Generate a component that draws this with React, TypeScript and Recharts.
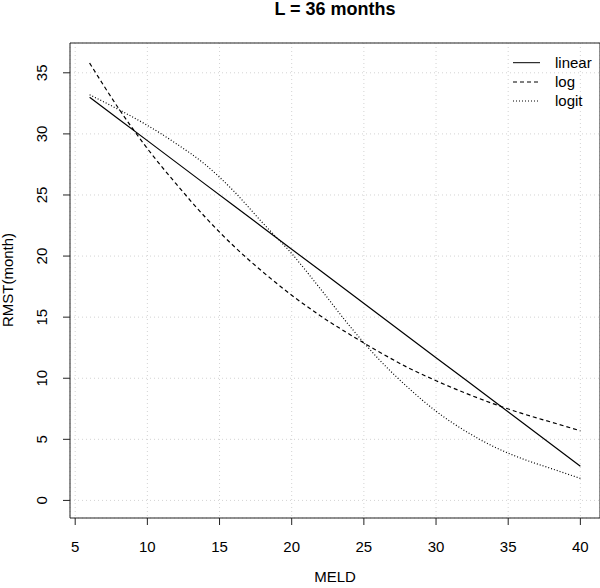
import { LineChart, Line, XAxis, YAxis, CartesianGrid, ReferenceArea, Customized } from 'recharts';

const meld = [6, 8, 10, 12, 14, 16, 18, 20, 22, 24, 26, 28, 30, 32, 34, 36, 38, 40];
const rmstLinear = [33.0, 31.22, 29.45, 27.67, 25.89, 24.12, 22.34, 20.56, 18.79, 17.01, 15.24, 13.46, 11.68, 9.91, 8.13, 6.35, 4.58, 2.8];
const rmstLog = [35.8, 32.1, 28.8, 25.9, 23.2, 20.8, 18.7, 16.8, 15.1, 13.6, 12.2, 10.9, 9.8, 8.8, 7.9, 7.1, 6.4, 5.7];
const rmstLogit = [33.2, 32.0, 30.7, 29.2, 27.5, 25.3, 22.7, 20.2, 17.3, 14.3, 11.6, 9.3, 7.3, 5.7, 4.4, 3.4, 2.6, 1.8];

const xTicks = [5, 10, 15, 20, 25, 30, 35, 40];
const yTicks = [0, 5, 10, 15, 20, 25, 30, 35];
const seriesNames = ['linear', 'log', 'logit'];

const X_DOMAIN: [number, number] = [4.64, 41.36];
const Y_DOMAIN: [number, number] = [-1.44, 37.44];

const FONT = '"Liberation Sans", Arial, Helvetica, sans-serif';
const dashes = [undefined, '4 3', '1 2'];

const data = meld.map((m, i) => ({
  meld: m,
  linear: rmstLinear[i],
  log: rmstLog[i],
  logit: rmstLogit[i],
}));

function XTick({ x, y, payload }: any) {
  return (
    <text x={x} y={y + 20} textAnchor="middle" dy="0.35em" fontSize={15} fill="#000">
      {payload.value}
    </text>
  );
}

function YTick({ x, y, payload }: any) {
  const cx = x - 19;
  return (
    <text x={cx} y={y} transform={`rotate(-90 ${cx} ${y})`} textAnchor="middle" dy="0.35em" fontSize={15} fill="#000">
      {payload.value}
    </text>
  );
}

function Overlay() {
  const legendY = [62.7, 82, 101];
  return (
    <g fontFamily={FONT}>
      <text x={335} y={15} textAnchor="middle" fontSize={18} fontWeight="bold" fill="#000">
        L = 36 months
      </text>
      <text x={335} y={577} textAnchor="middle" dy="0.35em" fontSize={15} fill="#000">
        MELD
      </text>
      <text x={8} y={280} transform="rotate(-90 8 280)" textAnchor="middle" dy="0.35em" fontSize={15} fill="#000">
        RMST(month)
      </text>
      {seriesNames.map((name, i) => (
        <g key={name}>
          <line x1={513} x2={540} y1={legendY[i]} y2={legendY[i]} stroke="#000" strokeDasharray={dashes[i]} />
          <text x={555} y={legendY[i]} dy="0.35em" fontSize={15} fill="#000">
            {name}
          </text>
        </g>
      ))}
    </g>
  );
}

export default function App() {
  return (
    <div style={{ position: 'absolute', left: 0, top: 0, background: '#fff' }}>
      <LineChart
        width={600}
        height={588}
        data={data}
        margin={{ top: 43, right: 0, bottom: 0, left: 0 }}
        style={{ fontFamily: FONT }}
      >
        <CartesianGrid stroke="#d3d3d3" strokeDasharray="1 3" />
        <XAxis
          dataKey="meld"
          type="number"
          domain={X_DOMAIN}
          ticks={xTicks}
          height={70}
          axisLine={false}
          tickSize={7}
          tickLine={{ stroke: '#222' }}
          tick={<XTick />}
          allowDataOverflow
        />
        <YAxis
          type="number"
          domain={Y_DOMAIN}
          ticks={yTicks}
          width={70}
          axisLine={false}
          tickSize={7}
          tickLine={{ stroke: '#222' }}
          tick={<YTick />}
          allowDataOverflow
        />
        <ReferenceArea
          x1={X_DOMAIN[0]}
          x2={X_DOMAIN[1]}
          y1={Y_DOMAIN[0]}
          y2={Y_DOMAIN[1]}
          fill="none"
          stroke="#222"
          strokeWidth={1}
          ifOverflow="visible"
        />
        <Line type="linear" dataKey="linear" stroke="#000" strokeWidth={1.2} dot={false} isAnimationActive={false} />
        <Line type="monotone" dataKey="log" stroke="#000" strokeWidth={1.2} strokeDasharray="4 3" dot={false} isAnimationActive={false} />
        <Line type="monotone" dataKey="logit" stroke="#000" strokeWidth={1.2} strokeDasharray="1 2" dot={false} isAnimationActive={false} />
        <Customized component={Overlay} />
      </LineChart>
    </div>
  );
}
